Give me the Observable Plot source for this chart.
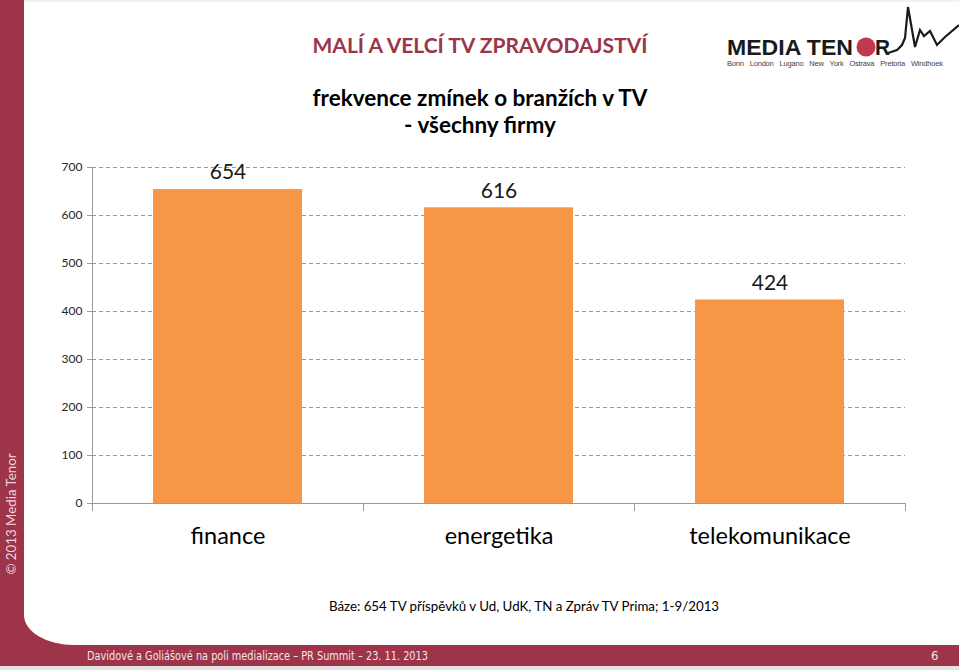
<!DOCTYPE html>
<html><head><meta charset="utf-8">
<script src="https://cdn.jsdelivr.net/npm/d3@7"></script>
<script src="https://cdn.jsdelivr.net/npm/@observablehq/plot@0.6"></script>
<style>
html,body{margin:0;padding:0;}
body{width:959px;height:670px;position:relative;overflow:hidden;background:#9D3449;font-family:Lato,"Open Sans",sans-serif;}
#panel{position:absolute;left:24px;top:2px;width:935px;height:643px;background:#fff;border-bottom-left-radius:50px 30px;}
#topline{position:absolute;left:24px;top:0;width:935px;height:2px;background:#f2f2f2;}
#bottomline{position:absolute;left:0;top:666px;width:959px;height:4px;background:#e6e2e3;}
.abs{position:absolute;white-space:nowrap;}
#title{left:0;width:960px;text-align:center;top:32px;font-size:21px;font-weight:bold;color:#9B3549;}
#sub{left:0;width:960px;text-align:center;top:84px;font-size:22.5px;font-weight:bold;color:#000;line-height:27px;}
#chart{left:0;top:150px;}
#base{left:0;width:1048px;text-align:center;top:598px;font-size:13.3px;color:#000;}
#foot{left:87px;top:648px;font-size:13px;color:#f4e4e7;font-family:"Liberation Sans Narrow","DejaVu Sans Condensed",sans-serif;transform:scaleX(0.834);transform-origin:0 0;}
#page{left:931px;top:648px;font-size:13px;color:#f4e4e7;font-family:"Liberation Sans Narrow","DejaVu Sans Condensed",sans-serif;}
#copy{left:11px;top:514px;transform:translate(-50%,-50%) rotate(-90deg);font-size:13.3px;color:#f0d6dc;}
#logo{left:700px;top:0;}
</style>
</head><body>
<div id="topline"></div>
<div id="panel"></div>
<div id="bottomline"></div>
<div class="abs" id="title">MALÍ A VELCÍ TV ZPRAVODAJSTVÍ</div>
<div class="abs" id="sub">frekvence zmínek o branžích v TV<br>- všechny firmy</div>
<div class="abs" id="chart"></div>
<div class="abs" id="base">Báze: 654 TV příspěvků v Ud, UdK, TN a Zpráv TV Prima; 1-9/2013</div>
<div class="abs" id="foot">Davidové a Goliášové na poli medializace – PR Summit – 23. 11. 2013</div>
<div class="abs" id="page">6</div>
<div class="abs" id="copy">© 2013 Media Tenor</div>
<svg class="abs" id="logo" width="259" height="80" viewBox="0 0 259 80">
  <text x="27" y="55" font-family="Liberation Sans, Arial, sans-serif" font-weight="bold" font-size="22" fill="#1a1a1a" textLength="126" lengthAdjust="spacingAndGlyphs">MEDIA TEN</text>
  <circle cx="166" cy="47" r="9.5" fill="#C0394F"/>
  <text x="175" y="55" font-family="Liberation Sans, Arial, sans-serif" font-weight="bold" font-size="22" fill="#1a1a1a" textLength="15" lengthAdjust="spacingAndGlyphs">R</text>
  <polyline points="188,53 197,50 202,45 205,38 208,7 215,47 220,30 224,36 230,31 237,45 245,37 259,25" fill="none" stroke="#1a1a1a" stroke-width="2.2" stroke-linejoin="miter"/>
  <text x="27" y="66" font-family="Liberation Sans, Arial, sans-serif" font-size="7.5" fill="#444" textLength="216" lengthAdjust="spacing" word-spacing="4">Bonn London Lugano New York Ostrava Pretoria Windhoek</text>
</svg>
<script>
const categories = ["finance", "energetika", "telekomunikace"];
const values = [654, 616, 424];
const yTicks = [0, 100, 200, 300, 400, 500, 600, 700];

const data = categories.map((c, i) => ({category: c, value: values[i]}));
const W = 959, H = 410, mL = 92, mR = 54, mT = 17, mB = 57;
const step = (W - mL - mR) / categories.length;
const axisGray = "#9a9a9a";

const chart = Plot.plot({
  width: W, height: H,
  marginLeft: mL, marginRight: mR, marginTop: mT, marginBottom: mB,
  style: {fontFamily: "Lato, 'Open Sans', sans-serif", background: "transparent", overflow: "visible"},
  x: {domain: categories, paddingInner: 0.45, paddingOuter: 0.225, axis: null},
  y: {domain: [0, 700], axis: null},
  marks: [
    Plot.gridY(yTicks.slice(1), {stroke: axisGray, strokeOpacity: 1, strokeDasharray: "4,3"}),
    Plot.barY(data, {x: "category", y: "value", fill: "#F79646"}),
    Plot.ruleY([0], {stroke: axisGray}),
    Plot.ruleX([categories[0]], {x: d => d, dx: -step / 2, y1: 0, y2: 700, stroke: axisGray}),
    Plot.axisY(yTicks, {tickSize: 5, tickPadding: 5, fontSize: 12, stroke: axisGray, fill: "#262626", label: null}),
    Plot.axisX(categories, {tickSize: 8, tickFormat: () => "", dx: -step / 2, stroke: axisGray, label: null}),
    Plot.axisX([categories[2]], {tickSize: 8, tickFormat: () => "", dx: step / 2, stroke: axisGray, label: null}),
    Plot.axisX(categories, {tickSize: 0, tickPadding: 24, fontSize: 23.5, fill: "#000", label: null}),
    Plot.text(data, {x: "category", y: "value", text: d => String(d.value), dy: -17, lineAnchor: "middle", fontSize: 21, fill: "#1a1a1a"})
  ]
});
document.getElementById("chart").appendChild(chart);
</script>
</body></html>
